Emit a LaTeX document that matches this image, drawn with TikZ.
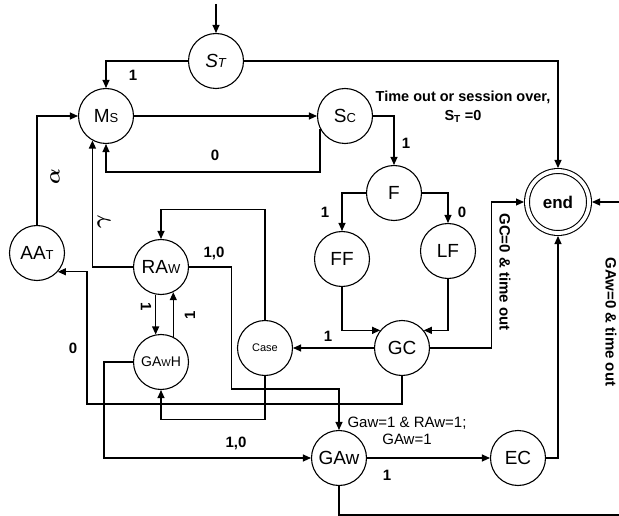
\documentclass[tikz,border=0pt]{standalone}
\usepackage{amsmath}
\usepackage{bm}
\usepackage{fontspec}
\setmainfont{Liberation Sans}
\usetikzlibrary{arrows.meta, positioning}
\newcommand{\subtag}[1]{{\fontsize{13}{13}\selectfont #1}}

\begin{document}
\begin{tikzpicture}[
    x=1pt, y=-1pt,
    on grid,
    state/.style={circle, draw, line width=1.1pt, minimum size=55pt, inner sep=0pt, font=\fontsize{19}{19}\selectfont},
    endstate/.style={circle, draw, line width=1.1pt, double, double distance=3.8pt, minimum size=62pt, inner sep=0pt, outer sep=3pt, font=\bfseries\fontsize{17}{17}\selectfont},
    lbl/.style={font=\bfseries\fontsize{15}{15}\selectfont, inner sep=0pt},
    note/.style={font=\fontsize{15}{17}\selectfont, align=center, inner sep=0pt},
    greek/.style={font=\fontsize{20}{20}\selectfont, inner sep=0pt, rotate=90},
    arrow/.style={-{Triangle[length=8pt,width=7pt]}, line width=1.1pt}
]
\useasboundingbox (0,0) rectangle (619,516);

% States
\node[state] (ms) at (106,116) {M\subtag{S}};
\node[state, above right=55pt and 110pt of ms] (st) {\textit{S}\subtag{\textit{T}}};
\node[state, right=239pt of ms] (sc) {S\subtag{C}};
\node[state, below right=77pt and 49pt of sc] (f) {F};
\node[state, below left=66pt and 52pt of f] (ff) {FF};
\node[state, below right=58pt and 54pt of f] (lf) {LF};
\node[state, below right=89pt and 60pt of ff] (gc) {GC};
\node[state, left=137pt of gc, font=\fontsize{11}{11}\selectfont] (case) {Case};
\node[state, below right=151pt and 55pt of ms] (raw) {RA\subtag{W}};
\node[state, below=95pt of raw, font=\fontsize{14}{14}\selectfont] (gawh) {GA{\fontsize{10}{10}\selectfont W}H};
\node[state, below left=137pt and 69pt of ms] (aat) {AA\subtag{T}};
\node[state, below right=110pt and 74pt of case] (gaw) {GAw};
\node[state, right=179pt of gaw] (ec) {EC};
\node[endstate] (fin) at (558,202) {end};

% Helper points
\coordinate[above=29pt of st.north] (start);
\coordinate (turn) at (87,404);
\coordinate (rim) at (623,515);

% Labels
\node[lbl] (l_stms) at (133,75) {1};
\node[lbl, align=center, font=\bfseries\fontsize{14.5}{19}\selectfont] (l_time) at (463,107) {Time out or session over,\\S\textsubscript{T} =0};
\node[lbl] (l_scms) at (215,155) {0};
\node[lbl] (l_scf) at (406,143) {1};
\node[lbl] (l_fff) at (325,212) {1};
\node[lbl] (l_flf) at (462,212) {0};
\node[lbl] (l_gccase) at (328,336) {1};
\node[lbl, rotate=-90] (l_gcend) at (505,272) {GC=0 \& time out};
\node[lbl, rotate=-90] (l_gawend) at (611,322) {GAw=0 \& time out};
\node[lbl] (l_gawec) at (387,475) {1};
\node[lbl] (l_gawhgaw) at (236,443) {1,0};
\node[lbl] (l_rawgaw) at (214,253) {1,0};
\node[lbl] (l_gcaat) at (73,348) {0};
\node[lbl, rotate=-90] (l_down) at (146,307) {1};
\node[lbl, rotate=90] (l_up) at (190,315) {1};
\node[greek] (l_alpha) at (55,177) {$\bm{\alpha}$};
\node[greek] (l_gamma) at (104,222) {$\bm{\gamma}$};
\node[note] (l_cond) at (407,431) {Gaw=1 \& RAw=1;\\GAw=1};

% Arrows
\draw[arrow] (start) -- (st);
\draw[arrow] (st.west) -| (ms.north);
\draw[arrow] (st.east) -| (fin.north);
\draw[arrow] (ms) -- (sc);
\draw[arrow] (sc.207) |- ([yshift=-28pt]ms.south) -- (ms.south);
\draw[arrow] (sc.east) -| (f.north);
\draw[arrow] (f.west) -| (ff.north);
\draw[arrow] (f.east) -| (lf.north);
\draw[arrow] (ff.south) |- (gc.141);
\draw[arrow] (lf.south) |- (gc.39);
\draw[arrow] (gc) -- (case);
\draw[arrow] (gc.east) -- ++(61,0) |- (fin.west);
\draw[arrow] (gc.south) |- (turn) |- (aat.-42);
\draw[arrow] (case.south) |- ([yshift=-29pt]gawh.south) -- (gawh.south);
\draw[arrow] (case.north) |- ([yshift=29pt]raw.north) -- (raw.north);
\draw[arrow] (raw.west) -| (ms.241);
\draw[arrow] (aat.north) |- (ms.west);
\draw[arrow] (raw.east) -- ++(42,0) |- ([yshift=41pt]gaw.north) -- (gaw.north);
\draw[arrow] (raw.259) -- (gawh.101);
\draw[arrow] (gawh.64) -- (raw.-64);
\draw[arrow] (gawh.west) -- ++(-29,0) |- (gaw.west);
\draw[arrow] (gaw) -- (ec);
\draw[arrow] (ec.east) -| (fin.south);
\draw[arrow] (gaw.south) |- (rim) |- (fin.east);

\end{tikzpicture}
\end{document}
